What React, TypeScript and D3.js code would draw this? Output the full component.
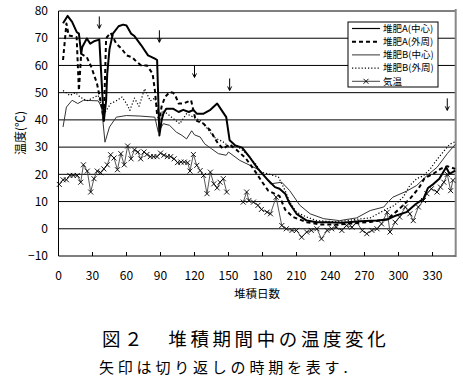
import React from "react";
import * as d3 from "d3";

const W = 463, H = 379;

// 堆肥A(中心)
const aCenterDays = [4,8,12,16,18,20,21,25,28,32,36,40,42,43,45,48,53,57,60,64,67,73,79,85,87,89,91,92.5,95,101,106,110,115,119,122,128,134,140,144,148,151,156,162,169,176,185,191,195,200,204,210,219,228,237,250,266,281,290,298,307,315,322,326,331,336,342,345,350];
const aCenterVals = [75.5,78.2,76,72.3,71.7,64.3,66.8,69.9,68,69,69.5,39.6,47,57,66,71.7,74.4,75,74.7,71.7,70.8,67.4,63.7,62.5,62,34.3,40,42.3,44.1,44.1,42.9,43.7,42.9,43.7,42.3,42.3,43.7,46,43.5,41,32.5,30.6,29.8,26.1,22,17.8,15.3,14.7,12.9,9.2,5.5,3,2.4,2.4,2.2,2.8,3,3.4,4.9,6.1,9,11,15,16.5,18.4,22.6,20.2,21.4];

// 堆肥A(外周)
const aPeriDays = [4,7,9,16,18,20,25,29,34,38,40,42,46,51,56,60,65,69,73,78,83,85,87,89,91,94,98,101,103,106,110,117,121,128,134,140,145,151,157,165,172,180,185,190,195,200,207,219,231,245,260,275,290,300,310,318,323,330,337,343,350];
const aPeriVals = [62,75.4,71,70.4,50.8,64.3,63,59.4,53.3,45,40,70,72,68,66,63.7,63,61.3,60,60,57,51,42,40,45,48.4,50.2,50,49,46,46,47.2,39.8,38.6,36.1,31.8,29.4,31,29,26,22,17,14,13,12,7,4.3,2.4,1.6,1.5,2,2.5,3.5,7,11,15,18.6,20,22,23,22];

// 堆肥B(中心)
const bCenterDays = [4,7,12,17,22,35,38,41,45,51,60,72,85,88,92.5,98,104,109,113,117.5,120,125,129,135,141,148,150,160,169,178,187,197,204,213,222,234,248,263,275,287,290,295,307,316,325,334,343,348,350];
const bCenterVals = [37.4,44.7,47.2,46,47.2,47,44.7,31.8,37.4,41,41.6,41.4,41,35.5,38.6,38,35.5,34.3,33,36,34.5,33.7,31.2,29.4,27.6,27,28.2,25.1,23.3,21.4,16.5,17.1,14,8.6,5.5,3.7,3,4,6.7,8,9.5,11.6,13.8,15.9,19.5,22.6,27.6,30,31];

// 堆肥B(外周)
const bPeriDays = [4,10,15,19,25,30,35,38,40,43,46,51,56,60,63,67,71,76,81,85,87,89,92,98,107,113,119,125,131,137,140,145,151,157,166,175,178,185,194,200,204,210,219,228,246,263,275,287,296,304,310,316,322,328,334,340,345,350];
const bPeriVals = [50.8,49,50,48.4,47,48,49,45,42,44,46,47,48.4,46,43.5,48,45,51.4,47,48,45,40,43.5,41.6,38.6,42.3,41,39.8,37,33.7,33,32,30,30.6,27.6,23.3,20.8,20.2,19,14,9.8,6.1,4.3,3,2.5,3.5,4,6.7,8.5,11.6,15.9,18.4,19.5,22,25.5,28.5,31,32];

// 気温
const airDays = [0.7,4,7,10,13,16.6,19.6,22,25.4,28.4,31.3,34.2,37.2,40,43,46,49,52,55,58,61,64,67,70,72.5,75.4,78,81,84,87,90,93,96,99,102,105,108,111,114,116,119,122,125,128,131,134,137,140,142.5,145.4,148.4,
  163,166,168,172,176,179,184,187,192,197,201,206,210,214.5,219,223,228,232,237,241,245,250,254,259,263,268,272,276.5,281,285,290,292.5,297,301,306,310,313,317.5,322,325,329,334,337,340,343,346,348];
const airVals: (number | null)[] = [16.3,18,18,19.6,19.6,19.6,17.1,23.5,21.2,13.5,18.4,21.2,20.6,22,23.5,27.2,26,21.7,27.6,23.5,30.4,25.7,29,28.2,25.7,28.2,27.3,26.5,26.5,26.5,27.8,27,26.5,26.5,25.7,24.3,24.5,24.5,24.3,21.2,27.3,23.3,21.4,19.6,12.9,20.8,16.5,15,17.1,18.4,13.5,
  9.8,13.5,10.4,9.8,8.6,7.1,6.1,5.5,11.6,1.2,0,-0.6,-0.6,-3.1,-1.2,-0.6,0,-3.7,-0.6,0,0.6,-0.6,1.2,0.6,2.4,-0.6,-1.8,-0.6,0,1.8,6.1,-1.2,2.4,4.3,8,5.5,3,8,10.4,12.9,14.7,13.5,15.3,17.1,20,14,17.8];
const airGapAfter = 148.4;

// 切り返し (arrows)
const arrowDays = [36, 89, 120, 151, 343];
const arrowTipVals = [73.6, 68.5, 55.6, 50.8, 43.5];

const xTicks = [0,30,60,90,120,150,180,210,240,270,300,330];
const yTicks = [-10,0,10,20,30,40,50,60,70,80];
const legendLabels = ["堆肥A(中心)", "堆肥A(外周)", "堆肥B(中心)", "堆肥B(外周)", "気温"];

const FONT = "'Noto Sans CJK JP', 'Noto Sans', sans-serif";

export default function App() {
  const x = d3.scaleLinear().domain([0, 350]).range([58.5, 455.2]);
  const y = d3.scaleLinear().domain([-10, 80]).range([256, 11]);

  const line = d3.line<[number, number | null]>()
    .defined(d => d[1] !== null)
    .x(d => x(d[0]))
    .y(d => y(d[1] as number));

  const zip = (ds: number[], vs: (number | null)[]) => ds.map((d, i) => [d, vs[i]] as [number, number | null]);

  const airPts: [number, number | null][] = [];
  airDays.forEach((d, i) => {
    airPts.push([d, airVals[i]]);
    if (d === airGapAfter) airPts.push([d + 1, null]);
  });

  const series = [
    { pts: zip(bCenterDays, bCenterVals), w: 1, dash: undefined, color: "#333" },
    { pts: zip(bPeriDays, bPeriVals), w: 1.2, dash: "1.2,2", color: "#000" },
    { pts: zip(aPeriDays, aPeriVals), w: 2, dash: "4,3", color: "#000" },
    { pts: zip(aCenterDays, aCenterVals), w: 2, dash: undefined, color: "#000" },
  ];

  const cross = (cx: number, cy: number, k: string) => (
    <g key={k} stroke="#000" strokeWidth={0.9}>
      <line x1={cx - 2.5} y1={cy - 2.5} x2={cx + 2.5} y2={cy + 2.5} />
      <line x1={cx - 2.5} y1={cy + 2.5} x2={cx + 2.5} y2={cy - 2.5} />
    </g>
  );

  const legX = 348, legY = 22, legW = 90, legH = 65;

  return (
    <svg width={W} height={H} style={{ position: "absolute", left: 0, top: 0, background: "#fff" }} fontFamily={FONT}>
      {/* gridlines */}
      {yTicks.filter(t => t > -10).map(t => (
        <line key={"g" + t} x1={x(0)} x2={x(350)} y1={y(t)} y2={y(t)} stroke="#000" strokeWidth={1} />
      ))}
      {/* right border */}
      <line x1={x(350) + 0.5} x2={x(350) + 0.5} y1={9} y2={257} stroke="#888" strokeWidth={2} />
      {/* axes */}
      <line x1={x(0)} x2={x(0)} y1={y(80)} y2={y(-10)} stroke="#000" strokeWidth={1} />
      <line x1={x(0)} x2={x(350)} y1={y(-10)} y2={y(-10)} stroke="#000" strokeWidth={1.2} />
      {xTicks.map(t => (
        <line key={"t" + t} x1={x(t)} x2={x(t)} y1={y(-10)} y2={y(-10) - 4} stroke="#000" strokeWidth={1} />
      ))}
      {/* tick labels */}
      {yTicks.map(t => (
        <text key={"yl" + t} x={48} y={y(t)} dy="0.35em" textAnchor="end" fontSize={12} fill="#000">{t === -10 ? "−10" : t}</text>
      ))}
      {xTicks.map(t => (
        <text key={"xl" + t} x={x(t)} y={276} dy="0.35em" textAnchor="middle" fontSize={12} fill="#000">{t}</text>
      ))}
      <text x={257} y={294} dy="0.35em" textAnchor="middle" fontSize={11.5}>堆積日数</text>
      <text transform="translate(21,133) rotate(-90)" textAnchor="middle" dy="0.35em" fontSize={12}>温度(℃)</text>

      {/* air temp */}
      <path d={line(airPts) || ""} fill="none" stroke="#444" strokeWidth={0.9} />
      {airDays.map((d, i) => cross(x(d), y(airVals[i] as number), "c" + i))}

      {series.map((s, i) => (
        <path key={"s" + i} d={line(s.pts) || ""} fill="none" stroke={s.color} strokeWidth={s.w} strokeDasharray={s.dash} strokeLinejoin="round" />
      ))}

      {/* arrows */}
      {arrowDays.map((d, i) => {
        const cx = x(d), ty = y(arrowTipVals[i]);
        return (
          <g key={"a" + i} stroke="#000" strokeWidth={1} fill="none">
            <line x1={cx} x2={cx} y1={ty - 12} y2={ty} />
            <line x1={cx - 2} x2={cx} y1={ty - 4} y2={ty} />
            <line x1={cx + 2} x2={cx} y1={ty - 4} y2={ty} />
          </g>
        );
      })}

      {/* legend */}
      <rect x={legX} y={legY} width={legW} height={legH} fill="#fff" stroke="#000" strokeWidth={1} />
      {legendLabels.map((lab, i) => {
        const ly = legY + 6.5 + i * 13.2;
        const styles = [
          { w: 1.2, dash: undefined, c: "#000" },
          { w: 2, dash: "4,3", c: "#000" },
          { w: 1, dash: undefined, c: "#333" },
          { w: 1.2, dash: "1.2,2", c: "#000" },
          { w: 1, dash: undefined, c: "#444" },
        ][i];
        return (
          <g key={"l" + i}>
            <line x1={352} x2={380} y1={ly} y2={ly} stroke={styles.c} strokeWidth={styles.w} strokeDasharray={styles.dash} />
            {i === 4 ? cross(366, ly, "lc") : null}
            <text x={383} y={ly} dy="0.35em" fontSize={9.5}>{lab}</text>
          </g>
        );
      })}

      {/* captions */}
      <text x={102} y={340} dy="0.35em" fontSize={18.5} letterSpacing={3.6}>図２　堆積期間中の温度変化</text>
      <text x={99} y={368} dy="0.35em" fontSize={15} letterSpacing={3.8}>矢印は切り返しの時期を表す.</text>
    </svg>
  );
}
